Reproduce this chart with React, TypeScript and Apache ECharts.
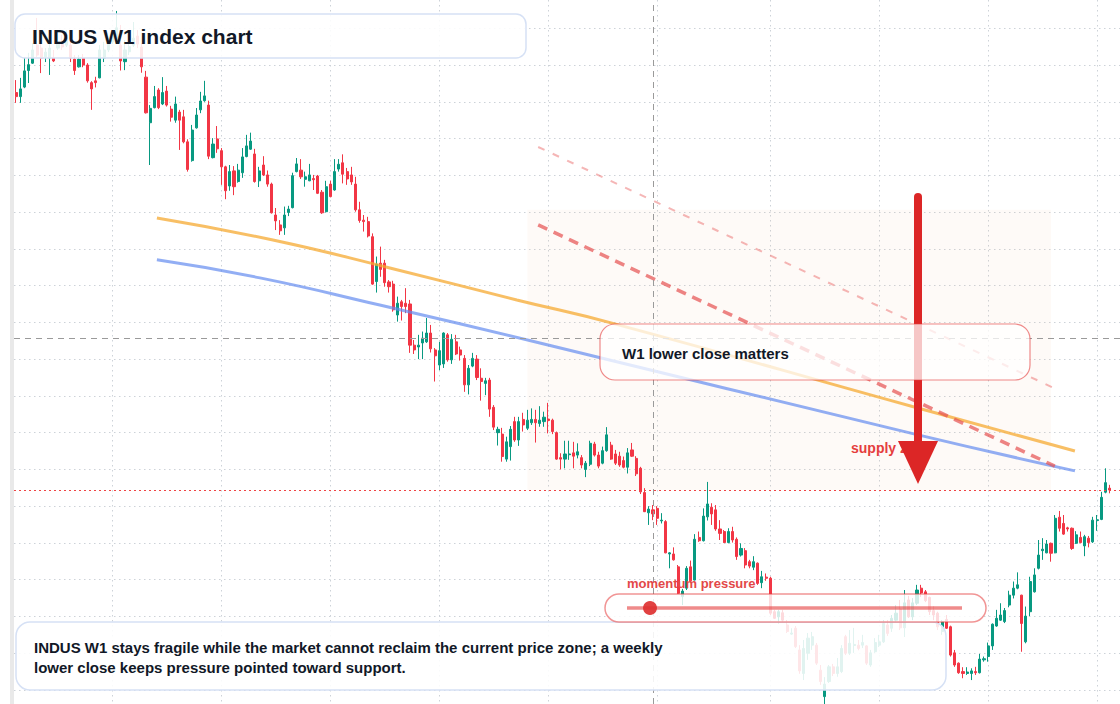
import React, { useEffect, useRef } from "react";
import * as echarts from "echarts";

type Bar = [number, number, number, number];

// Weekly INDUS bars: [open, close, low, high]
const weeklyBars: Bar[] = [
  [4625, 4614, 4597, 4659], [4614, 4635, 4597, 4665], [4640, 4684, 4637, 4719], [4685, 4701, 4651, 4733],
  [4705, 4741, 4703, 4760], [4754, 4727, 4722, 4828], [4746, 4719, 4678, 4768], [4722, 4735, 4708, 4746],
  [4719, 4746, 4673, 4763], [4719, 4711, 4708, 4741], [4746, 4763, 4741, 4795], [4763, 4749, 4741, 4782],
  [4754, 4773, 4749, 4795], [4754, 4719, 4708, 4773], [4716, 4685, 4673, 4727], [4695, 4716, 4693, 4727],
  [4719, 4700, 4694, 4730], [4700, 4657, 4652, 4705], [4652, 4635, 4578, 4656], [4657, 4652, 4639, 4668],
  [4665, 4741, 4664, 4754], [4719, 4741, 4708, 4763], [4741, 4757, 4735, 4773], [4763, 4779, 4757, 4795],
  [4773, 4801, 4768, 4847], [4754, 4711, 4685, 4809], [4709, 4741, 4686, 4768], [4736, 4750, 4727, 4782],
  [4754, 4773, 4749, 4817], [4779, 4757, 4746, 4795], [4749, 4695, 4679, 4760], [4667, 4570, 4568, 4684],
  [4543, 4582, 4428, 4591], [4584, 4614, 4582, 4643], [4632, 4584, 4580, 4637], [4594, 4625, 4591, 4667],
  [4629, 4591, 4587, 4643], [4580, 4558, 4546, 4589], [4550, 4594, 4543, 4614], [4572, 4550, 4469, 4578],
  [4559, 4491, 4487, 4578], [4491, 4416, 4410, 4498], [4440, 4523, 4437, 4537], [4529, 4564, 4527, 4583],
  [4578, 4602, 4569, 4627], [4603, 4616, 4600, 4657], [4591, 4452, 4444, 4603], [4448, 4485, 4446, 4501],
  [4499, 4472, 4461, 4534], [4467, 4423, 4374, 4474], [4423, 4358, 4335, 4426], [4371, 4410, 4358, 4428],
  [4412, 4369, 4346, 4425], [4383, 4414, 4380, 4431], [4407, 4450, 4393, 4474], [4451, 4480, 4449, 4510],
  [4471, 4493, 4469, 4516], [4458, 4383, 4380, 4472], [4385, 4412, 4368, 4423], [4428, 4401, 4398, 4452],
  [4401, 4376, 4369, 4413], [4376, 4298, 4296, 4380], [4292, 4276, 4251, 4311], [4265, 4249, 4238, 4278],
  [4257, 4292, 4238, 4315], [4299, 4308, 4289, 4317], [4312, 4399, 4310, 4407], [4410, 4431, 4408, 4447],
  [4414, 4396, 4390, 4444], [4389, 4396, 4369, 4410], [4385, 4401, 4384, 4431], [4391, 4388, 4360, 4401],
  [4398, 4351, 4349, 4401], [4354, 4298, 4295, 4360], [4301, 4369, 4299, 4385], [4376, 4342, 4340, 4385],
  [4360, 4410, 4358, 4444], [4417, 4430, 4410, 4444], [4434, 4403, 4378, 4457], [4410, 4390, 4374, 4420],
  [4401, 4382, 4374, 4423], [4376, 4306, 4301, 4396], [4306, 4277, 4271, 4328], [4278, 4274, 4247, 4292],
  [4274, 4235, 4231, 4287], [4233, 4104, 4102, 4242], [4111, 4158, 4081, 4179], [4161, 4144, 4124, 4206],
  [4161, 4108, 4097, 4170], [4110, 4097, 4081, 4115], [4104, 4034, 4029, 4113], [4020, 4052, 4002, 4070],
  [4056, 4043, 4005, 4061], [4052, 4043, 4025, 4093], [4050, 3938, 3917, 4061], [3938, 3925, 3914, 3952],
  [3933, 3938, 3900, 3966], [3944, 3957, 3900, 3975], [3947, 3971, 3944, 4012], [3971, 3928, 3918, 3993],
  [3925, 3909, 3839, 3930], [3884, 3923, 3870, 3947], [3887, 3971, 3876, 3973], [3966, 3898, 3893, 3971],
  [3898, 3954, 3887, 3968], [3947, 3914, 3911, 3966], [3925, 3911, 3896, 3934], [3902, 3830, 3811, 3911],
  [3830, 3875, 3804, 3884], [3881, 3902, 3878, 3917], [3900, 3850, 3843, 3911], [3848, 3839, 3787, 3875],
  [3834, 3841, 3802, 3849], [3843, 3764, 3743, 3849], [3769, 3715, 3707, 3775], [3700, 3709, 3665, 3716],
  [3696, 3635, 3621, 3713], [3628, 3675, 3621, 3689], [3662, 3709, 3624, 3718], [3730, 3680, 3675, 3743],
  [3680, 3730, 3664, 3743], [3736, 3721, 3703, 3754], [3712, 3734, 3707, 3762], [3727, 3736, 3721, 3766],
  [3736, 3727, 3673, 3762], [3725, 3734, 3716, 3772], [3730, 3742, 3716, 3757], [3737, 3733, 3698, 3781],
  [3734, 3703, 3696, 3738], [3700, 3628, 3626, 3703], [3632, 3628, 3600, 3644], [3628, 3642, 3603, 3678],
  [3640, 3642, 3626, 3678], [3645, 3636, 3603, 3675], [3639, 3648, 3630, 3671], [3632, 3612, 3603, 3639],
  [3600, 3617, 3579, 3623], [3614, 3671, 3609, 3678], [3669, 3639, 3635, 3675], [3639, 3609, 3603, 3648],
  [3617, 3651, 3614, 3662], [3651, 3694, 3648, 3715], [3666, 3628, 3626, 3675], [3642, 3617, 3612, 3653],
  [3636, 3612, 3607, 3648], [3624, 3606, 3603, 3635], [3606, 3645, 3589, 3658], [3653, 3636, 3634, 3672],
  [3630, 3588, 3582, 3636], [3603, 3539, 3533, 3607], [3537, 3485, 3484, 3549], [3482, 3492, 3449, 3500],
  [3490, 3479, 3462, 3503], [3494, 3467, 3449, 3500], [3460, 3462, 3453, 3481], [3458, 3373, 3372, 3462],
  [3370, 3373, 3331, 3375], [3370, 3354, 3352, 3388], [3335, 3263, 3261, 3340], [3254, 3269, 3231, 3275],
  [3277, 3331, 3272, 3337], [3335, 3297, 3295, 3352], [3299, 3410, 3298, 3424], [3415, 3406, 3403, 3431],
  [3406, 3473, 3404, 3494], [3471, 3506, 3461, 3566], [3497, 3479, 3449, 3508], [3490, 3438, 3433, 3503],
  [3438, 3426, 3408, 3462], [3431, 3401, 3400, 3435], [3401, 3431, 3399, 3440], [3431, 3408, 3401, 3444],
  [3410, 3363, 3354, 3415], [3367, 3385, 3363, 3399], [3379, 3340, 3331, 3386], [3349, 3337, 3331, 3354],
  [3334, 3349, 3326, 3364], [3345, 3290, 3286, 3347], [3292, 3308, 3277, 3324], [3307, 3304, 3297, 3317],
  [3304, 3209, 3204, 3308], [3213, 3195, 3193, 3218], [3199, 3213, 3180, 3218], [3210, 3190, 3185, 3218],
  [3177, 3159, 3155, 3190], [3152, 3155, 3150, 3168], [3168, 3118, 3114, 3174], [3109, 3052, 3044, 3122],
  [3045, 3113, 3027, 3136], [3100, 3141, 3082, 3155], [3122, 3145, 3109, 3158], [3122, 3073, 3068, 3128],
  [3054, 3023, 3014, 3068], [2982, 3016, 2955, 3035], [3023, 3063, 3019, 3068], [3063, 3045, 3038, 3071],
  [3045, 3063, 3036, 3087], [3050, 3113, 3046, 3122], [3145, 3100, 3095, 3150], [3100, 3127, 3095, 3163],
  [3121, 3124, 3101, 3169], [3122, 3113, 3108, 3136], [3122, 3129, 3114, 3150], [3120, 3073, 3068, 3122],
  [3068, 3101, 3063, 3109], [3104, 3129, 3101, 3141], [3122, 3131, 3117, 3150], [3131, 3181, 3128, 3190],
  [3177, 3154, 3147, 3190], [3168, 3195, 3158, 3204], [3190, 3209, 3185, 3231], [3220, 3169, 3163, 3245],
  [3169, 3237, 3144, 3272], [3245, 3199, 3196, 3256], [3199, 3237, 3190, 3250], [3236, 3272, 3231, 3286],
  [3277, 3264, 3253, 3286], [3267, 3243, 3239, 3272], [3252, 3213, 3204, 3254], [3216, 3204, 3190, 3228],
  [3209, 3172, 3163, 3213], [3159, 3186, 3150, 3190], [3192, 3168, 3166, 3204], [3172, 3095, 3091, 3175],
  [3101, 3068, 3063, 3109], [3073, 3047, 3044, 3075], [3050, 3045, 3032, 3062], [3045, 3049, 3041, 3062],
  [3045, 3052, 3027, 3059], [3050, 3047, 3041, 3063], [3047, 3084, 3045, 3098], [3082, 3085, 3077, 3091],
  [3091, 3120, 3077, 3129], [3120, 3179, 3109, 3181], [3174, 3195, 3172, 3218], [3190, 3204, 3188, 3236],
  [3186, 3216, 3182, 3223], [3231, 3258, 3225, 3270], [3258, 3277, 3249, 3295], [3277, 3286, 3274, 3320],
  [3258, 3181, 3104, 3259], [3131, 3201, 3127, 3227], [3213, 3295, 3201, 3308], [3267, 3313, 3265, 3331],
  [3331, 3367, 3328, 3408], [3379, 3383, 3354, 3413], [3373, 3397, 3372, 3408], [3399, 3372, 3349, 3401],
  [3373, 3467, 3372, 3476], [3470, 3440, 3431, 3487], [3453, 3424, 3422, 3476], [3441, 3438, 3431, 3444],
  [3440, 3385, 3381, 3442], [3399, 3422, 3397, 3432], [3415, 3401, 3399, 3431], [3392, 3417, 3364, 3422],
  [3413, 3401, 3388, 3419], [3403, 3462, 3400, 3471], [3461, 3463, 3433, 3476], [3464, 3524, 3462, 3539],
  [3538, 3564, 3535, 3603], [3549, 3544, 3535, 3558],
];

// One category per trading week
const firstWeekStart = Date.UTC(2021, 0, 4);
const weekLabels = weeklyBars.map((_, i) =>
  new Date(firstWeekStart + i * 7 * 86400000).toISOString().slice(0, 10)
);

// Weeks that carry a vertical time grid line
const gridWeeks = [23, 49, 75, 101, 127, 153, 180, 206, 232, 258];

// Price grid range and step
const priceMin = 3000;
const priceMax = 4800;
const priceStep = 100;

const lastClose = weeklyBars[weeklyBars.length - 1][1];
const cursorWeek = 152;
const cursorLevel = 3957;

// Smoothed trend curves, [week position, level]
const fastTrend: [number, number][] = [
  [33.6, 4284], [61.3, 4224], [89.2, 4148], [119.5, 4061], [142.2, 3998], [215.2, 3767], [252.7, 3650],
];
const slowTrend: [number, number][] = [
  [33.6, 4170], [58.2, 4121], [86.8, 4047], [125.0, 3944], [214.5, 3696], [252.7, 3596],
];

// Descending supply channel edges
const channelUpper: [number, number][] = [[124.6, 4477], [247.2, 3824]];
const channelLower: [number, number][] = [[124.6, 4265], [247.9, 3609]];

// Supply zone window
const zoneWeeks = [122, 247];
const zoneTop = 4306;

const UP = "#089981";
const DOWN = "#f23645";
const FONT = '"Liberation Sans", Arial, Helvetica, sans-serif';
const gridLine = { color: "#cdd2d8", width: 1, type: [1.5, 3.5] as number[] };

// plot band shared by the price scale (price grid 4800 at top, 3000 at bottom)
const bandTop = 28.24;
const bandBottom = 14;

const hiddenAxis = {
  axisLine: { show: false },
  axisTick: { show: false },
  axisLabel: { show: false },
  splitLine: { show: false },
};

export default function App() {
  const ref = useRef<HTMLDivElement>(null);

  useEffect(() => {
    if (!ref.current) return;
    const chart = echarts.init(ref.current, undefined, { renderer: "svg" });

    const option: any = {
      animation: false,
      backgroundColor: "#ffffff",
      grid: [
        // candles and overlays
        { left: 16.1, right: 10.3, top: bandTop, bottom: bandBottom },
        // horizontal price grid, full width
        { left: 14, right: 0, top: bandTop, bottom: bandBottom },
        // vertical time grid, full height
        { left: 16.1, right: 10.3, top: 0, bottom: 0 },
      ],
      xAxis: [
        { type: "category", gridIndex: 0, data: weekLabels, boundaryGap: false, ...hiddenAxis },
        { type: "value", gridIndex: 0, min: 0, max: weeklyBars.length - 1, show: false },
        { type: "value", gridIndex: 1, min: 0, max: 1, show: false },
        {
          type: "category",
          gridIndex: 2,
          data: weekLabels,
          boundaryGap: false,
          axisLine: { show: false },
          axisTick: { show: false },
          axisLabel: { show: false },
          splitLine: {
            show: true,
            interval: (index: number) => gridWeeks.includes(index),
            lineStyle: gridLine,
          },
        },
      ],
      yAxis: [
        { type: "value", gridIndex: 0, min: priceMin, max: priceMax, ...hiddenAxis },
        {
          type: "value",
          gridIndex: 1,
          min: priceMin,
          max: priceMax,
          interval: priceStep,
          position: "right",
          axisLine: { show: false },
          axisTick: { show: false },
          axisLabel: { show: false },
          splitLine: { show: true, lineStyle: gridLine },
        },
        { type: "value", gridIndex: 2, min: 0, max: 1, show: false },
      ],
      series: [
        {
          type: "candlestick",
          xAxisIndex: 0,
          yAxisIndex: 0,
          data: weeklyBars,
          barWidth: 2.6,
          clip: false,
          itemStyle: {
            color: UP,
            color0: DOWN,
            borderColor: UP,
            borderColor0: DOWN,
            borderWidth: 1,
          },
          markArea: {
            silent: true,
            itemStyle: { color: "rgba(245,180,140,0.07)" },
            data: [
              [
                { xAxis: weekLabels[zoneWeeks[0]], yAxis: zoneTop },
                { xAxis: weekLabels[zoneWeeks[1]], yAxis: lastClose },
              ],
            ],
          },
        },
        // price line and cursor level across the full width
        {
          type: "line",
          xAxisIndex: 2,
          yAxisIndex: 1,
          data: [[0, lastClose]],
          showSymbol: false,
          silent: true,
          lineStyle: { opacity: 0 },
          markLine: {
            silent: true,
            symbol: "none",
            label: { show: false },
            data: [
              { yAxis: lastClose, lineStyle: { color: "#ef4444", width: 1, type: [2, 3] } },
              { yAxis: cursorLevel, lineStyle: { color: "#9a9a9a", width: 1, type: [6, 5] } },
            ],
          },
        },
        // cursor week across the full height
        {
          type: "line",
          xAxisIndex: 3,
          yAxisIndex: 2,
          data: [[weekLabels[cursorWeek], 0.5]],
          showSymbol: false,
          silent: true,
          lineStyle: { opacity: 0 },
          markLine: {
            silent: true,
            symbol: "none",
            label: { show: false },
            data: [{ xAxis: weekLabels[cursorWeek], lineStyle: { color: "#9a9a9a", width: 1, type: [6, 5] } }],
          },
        },
        {
          type: "line",
          xAxisIndex: 1,
          yAxisIndex: 0,
          data: fastTrend,
          smooth: true,
          showSymbol: false,
          silent: true,
          lineStyle: { color: "rgba(245,170,50,0.75)", width: 3 },
          z: 3,
        },
        {
          type: "line",
          xAxisIndex: 1,
          yAxisIndex: 0,
          data: slowTrend,
          smooth: true,
          showSymbol: false,
          silent: true,
          lineStyle: { color: "rgba(100,140,240,0.7)", width: 3 },
          z: 3,
        },
        {
          type: "line",
          xAxisIndex: 1,
          yAxisIndex: 0,
          data: channelUpper,
          showSymbol: false,
          silent: true,
          lineStyle: { color: "rgba(236,110,110,0.5)", width: 2, type: [7, 9] },
          z: 4,
        },
        {
          type: "line",
          xAxisIndex: 1,
          yAxisIndex: 0,
          data: channelLower,
          showSymbol: false,
          silent: true,
          lineStyle: { color: "rgba(230,80,80,0.7)", width: 3.5, type: [10, 7] },
          z: 4,
        },
      ],
      graphic: [
        // left frame strip
        { type: "rect", z: 10, shape: { x: 10, y: 0, width: 4, height: 704 }, style: { fill: "#e9e9e9" } },
        // title card
        {
          type: "rect", z: 10,
          shape: { x: 15, y: 14, width: 511, height: 44, r: 10 },
          style: { fill: "rgba(255,255,255,0.88)", stroke: "#d6e1f5", lineWidth: 1.5 },
        },
        {
          type: "text", z: 11, x: 32, y: 36,
          style: { text: "INDUS W1 index chart", fill: "#111827", font: `bold 21px ${FONT}`, verticalAlign: "middle" },
        },
        // summary card
        {
          type: "rect", z: 10,
          shape: { x: 16, y: 622, width: 930, height: 68, r: 14 },
          style: { fill: "rgba(255,255,255,0.88)", stroke: "#d6e1f5", lineWidth: 1.5 },
        },
        {
          type: "text", z: 11, x: 34, y: 647,
          style: {
            text: "INDUS W1 stays fragile while the market cannot reclaim the current price zone; a weekly",
            fill: "#111827", font: `bold 15px ${FONT}`, verticalAlign: "middle",
          },
        },
        {
          type: "text", z: 11, x: 34, y: 667,
          style: {
            text: "lower close keeps pressure pointed toward support.",
            fill: "#111827", font: `bold 15px ${FONT}`, verticalAlign: "middle",
          },
        },
        // momentum gauge
        {
          type: "rect", z: 10,
          shape: { x: 605, y: 594, width: 381, height: 28, r: 14 },
          style: { fill: "rgba(255,255,255,0.82)", stroke: "rgba(229,62,62,0.55)", lineWidth: 1.5 },
        },
        {
          type: "line", z: 11,
          shape: { x1: 627, y1: 608, x2: 962, y2: 608 },
          style: { stroke: "rgba(229,62,62,0.6)", lineWidth: 3.5 },
        },
        {
          type: "circle", z: 12,
          shape: { cx: 650, cy: 608, r: 7 },
          style: { fill: "rgba(222,44,44,0.9)" },
        },
        {
          type: "text", z: 11, x: 627, y: 583,
          style: { text: "momentum pressure", fill: "#e34848", font: `bold 13px ${FONT}`, verticalAlign: "middle" },
        },
        // supply label and downward arrow
        {
          type: "text", z: 11, x: 851, y: 448,
          style: { text: "supply zone", fill: "#e53e3e", font: `bold 14px ${FONT}`, verticalAlign: "middle" },
        },
        {
          type: "line", z: 12,
          shape: { x1: 918, y1: 197, x2: 918, y2: 446 },
          style: { stroke: "#dc2626", lineWidth: 8, lineCap: "round" },
        },
        {
          type: "polygon", z: 12,
          shape: { points: [[898, 441], [938, 441], [918, 484]] },
          style: { fill: "#dc2626" },
        },
        // callout card
        {
          type: "rect", z: 13,
          shape: { x: 600, y: 324, width: 430, height: 56, r: 15 },
          style: { fill: "rgba(255,255,255,0.74)", stroke: "rgba(229,62,62,0.6)", lineWidth: 1.2 },
        },
        {
          type: "text", z: 14, x: 622, y: 353,
          style: { text: "W1 lower close matters", fill: "#111827", font: `bold 15px ${FONT}`, verticalAlign: "middle" },
        },
      ],
    };

    chart.setOption(option);
    return () => chart.dispose();
  }, []);

  return (
    <div
      ref={ref}
      style={{ position: "fixed", left: 0, top: 0, width: 1120, height: 704 }}
    />
  );
}
